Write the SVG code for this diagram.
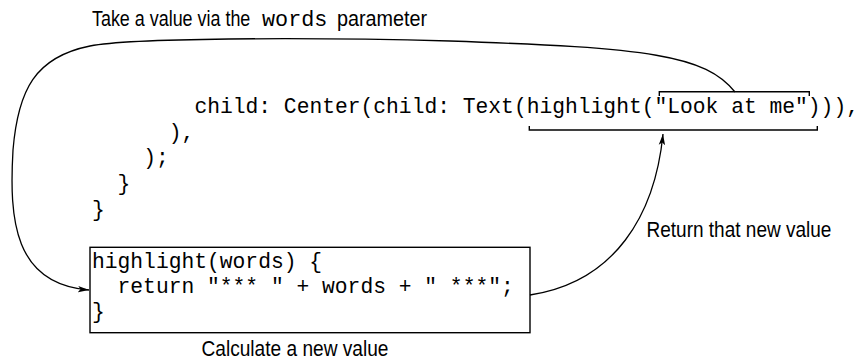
<svg xmlns="http://www.w3.org/2000/svg" width="864" height="361" viewBox="0 0 864 361">
<style>
.mono{font-family:"Liberation Mono","Courier New",monospace;font-size:21.3px;fill:#000;white-space:pre}
.sans{font-family:"Liberation Sans",Arial,sans-serif;font-size:22px;fill:#000}
.ln{fill:none;stroke:#000;stroke-width:1.4}
.conn{fill:none;stroke:#000;stroke-width:1.3}
</style>
<defs>
<marker id="arr" markerWidth="12" markerHeight="8" refX="11" refY="4" orient="auto" markerUnits="userSpaceOnUse">
<path d="M0,0.8 L11,4 L0,7.2 L2.5,4 z" fill="#000"/>
</marker>
</defs>
<rect width="864" height="361" fill="#fff"/>

<g id="title">
<text class="sans" transform="translate(92,25.5) scale(0.815,1)">Take a value via the</text>
<text class="mono" x="262" y="25.5" style="font-size:21.8px">words</text>
<text class="sans" transform="translate(337,25.5) scale(0.9,1)">parameter</text>
</g>

<g id="code">
<text class="mono" x="194.4" y="113">child: Center(child: Text(highlight("Look at me"))),</text>
<text class="mono" x="168.8" y="138.5">),</text>
<text class="mono" x="143.2" y="164">);</text>
<text class="mono" x="117.6" y="190">}</text>
<text class="mono" x="92" y="216">}</text>
</g>

<g id="brackets">
<path class="ln" d="M659.3,96 V91.7 H809.3 V96"/>
<path class="ln" d="M529.3,126 V130 H817.3 V126"/>
</g>

<g id="highlight-box">
<rect class="ln" x="90" y="247.3" width="440" height="85.4"/>
<text class="mono" x="92" y="268">highlight(words) {</text>
<text class="mono" x="92" y="293">  return "*** " + words + " ***";</text>
<text class="mono" x="92" y="318">}</text>
</g>

<g id="labels">
<text class="sans" transform="translate(201.5,356) scale(0.869,1)">Calculate a new value</text>
<text class="sans" transform="translate(646.5,236.5) scale(0.865,1)">Return that new value</text>
</g>

<g id="connectors">
<path class="conn" marker-end="url(#arr)" d="M735,92 C705,55 650,48 450,41 C300,37 130,38 90,46 C35,57 18,90 13,150 C9,220 14,284 89,290"/>
<path class="conn" marker-end="url(#arr)" d="M530,295 C615,282 655,215 663,134"/>
</g>
</svg>
